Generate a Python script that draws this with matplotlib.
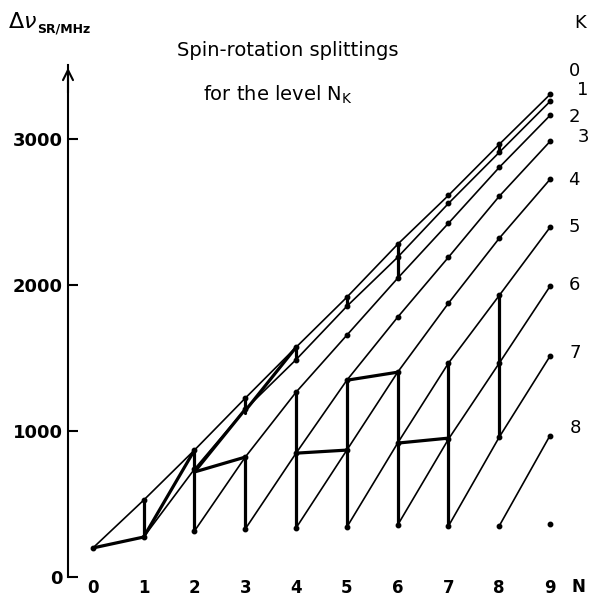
import matplotlib
matplotlib.use("Agg")
import matplotlib.pyplot as plt

# rotational quantum number N
n_ticks = [0, 1, 2, 3, 4, 5, 6, 7, 8, 9]
k_names = ["0", "1", "2", "3", "4", "5", "6", "7", "8"]

# spin-rotation splitting (MHz) for each K, from N = K up to N = 9
k0 = [199, 527, 870, 1226, 1575, 1918, 2281, 2616, 2966, 3308]
k1 = [274, 740, 1150, 1490, 1856, 2192, 2561, 2911, 3260]
k2 = [315, 822, 1267, 1658, 2048, 2425, 2808, 3164]
k3 = [329, 849, 1349, 1781, 2192, 2610, 2986]
k4 = [336, 870, 1404, 1877, 2322, 2726]
k5 = [342, 918, 1466, 1930, 2397]
k6 = [356, 945, 1466, 1993]
k7 = [349, 959, 1514]
k8 = [350, 970]
k9 = [363]
k_series = [k0, k1, k2, k3, k4, k5, k6, k7, k8, k9]

# heavy segments: (N start, N end) and (value start, value end)
thick_n = [(0, 1), (1, 1), (1, 2), (2, 2), (2, 3), (2, 3), (3, 3), (3, 3),
           (3, 4), (4, 4), (4, 4), (4, 5), (5, 5), (5, 5), (5, 6), (6, 6),
           (6, 6), (6, 7), (7, 7), (8, 8), (8, 8)]
thick_v = [(199, 274), (274, 527), (274, 870), (315, 870), (720, 822),
           (720, 1150), (329, 822), (1123, 1226), (1140, 1575), (336, 1267),
           (1490, 1575), (849, 870), (342, 1349), (1856, 1918), (1349, 1404),
           (356, 1404), (2048, 2281), (918, 952), (349, 1466), (959, 1930),
           (2911, 2966)]

W, H = 590, 597
fig = plt.figure(figsize=(W / 100, H / 100), dpi=100)
ax = fig.add_axes([68 / W, 20 / H, (580.5 - 68) / W, (577 - 65) / H])
ax.set_xlim(-0.49, 9.6)
ax.set_ylim(0, 3510)

for k, vals in enumerate(k_series):
    ns = n_ticks[k:k + len(vals)]
    ax.plot(ns, vals, "-", color="black", lw=1.2, marker="o", ms=3.2,
            clip_on=False, solid_capstyle="round")

for (na, nb), (va, vb) in zip(thick_n, thick_v):
    ax.plot([na, nb], [va, vb], "-", color="black", lw=2.3,
            solid_capstyle="round", clip_on=False)

for s in ["top", "right", "bottom"]:
    ax.spines[s].set_visible(False)
ax.spines["left"].set_linewidth(1.5)
ax.annotate("", xy=(-0.49, 3510), xytext=(-0.49, 3300),
            arrowprops=dict(arrowstyle="->", lw=1.5, mutation_scale=18),
            annotation_clip=False)

ax.set_yticks([0, 1000, 2000, 3000])
ax.set_yticklabels(["0", "1000", "2000", "3000"], fontsize=13,
                   fontweight="bold")
ax.tick_params(axis="y", direction="in", length=7, width=1.5, pad=4)
ax.set_xticks(n_ticks)
ax.set_xticklabels([str(n) for n in n_ticks], fontsize=12,
                   fontweight="bold")
ax.tick_params(axis="x", length=0, pad=1.5)

fig.text(578 / W, 1 - 587 / H, "N", fontsize=12, fontweight="bold",
         ha="center", va="center")
fig.text(8 / W, 1 - 22 / H, r"$\Delta\nu$", fontsize=16, ha="left",
         va="center")
fig.text(37 / W, 1 - 29 / H, "SR/MHz", fontsize=9, fontweight="bold",
         ha="left", va="center")
fig.text(288 / W, 1 - 50 / H, "Spin-rotation splittings", fontsize=14,
         ha="center", va="center")
fig.text(203 / W, 1 - 95 / H, r"for the level N$_{\mathregular{K}}$",
         fontsize=14, ha="left", va="center")

fig.text(580 / W, 1 - 23 / H, "K", fontsize=13, ha="center", va="center")
k_label_x = [575, 583, 574, 583, 574, 574, 574, 575, 575]
k_label_y = [71, 90, 117, 137, 180, 227, 285, 353, 428]
for name, px, py in zip(k_names, k_label_x, k_label_y):
    fig.text(px / W, 1 - py / H, name, fontsize=13, ha="center",
             va="center")

fig.savefig("out.png", dpi=100)
